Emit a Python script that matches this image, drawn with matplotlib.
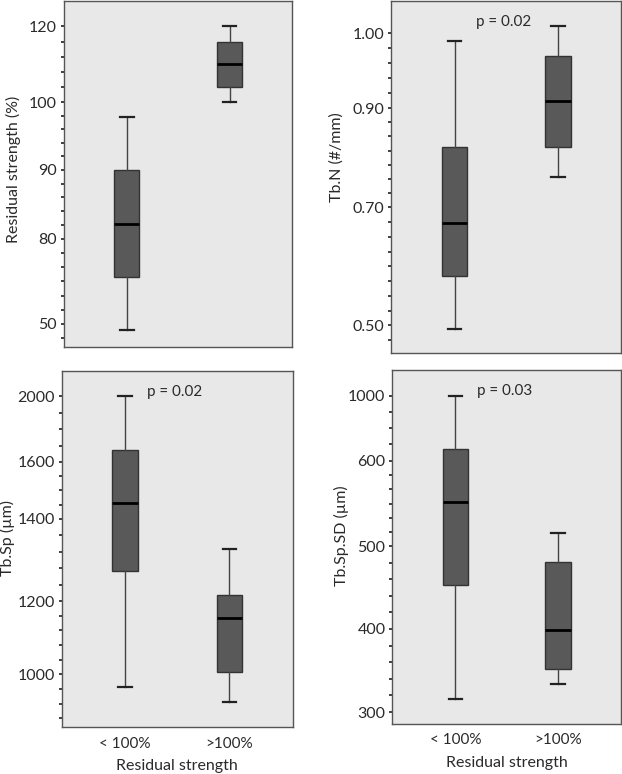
import numpy as np
import matplotlib.pyplot as plt
from matplotlib.ticker import FixedLocator, NullFormatter

plt.rcParams['font.family'] = ['Lato', 'DejaVu Sans']

groups = ['< 100%', '>100%']

# whisker low, q1, median, q3, whisker high
strength_lt100 = [47.9, 66.6, 82.2, 90.0, 97.8]
strength_gt100 = [100.0, 104.0, 110.0, 116.0, 120.0]
tbn_lt100 = [0.494, 0.583, 0.673, 0.822, 0.989]
tbn_gt100 = [0.760, 0.822, 0.909, 0.969, 1.010]
tbsp_lt100 = [967, 1272, 1454, 1675, 2000]
tbsp_gt100 = [926, 1008, 1155, 1215, 1327]
tbspsd_lt100 = [315.7, 452.8, 551.6, 674.0, 1000.0]
tbspsd_gt100 = [334.0, 351.8, 398.4, 480.6, 516.0]

# y tick values / labels
strength_ticks = [50, 80, 90, 100, 120]
strength_labels = ['50', '80', '90', '100', '120']
tbn_ticks = [0.50, 0.70, 0.90, 1.00]
tbn_labels = ['0.50', '0.70', '0.90', '1.00']
tbsp_ticks = [1000, 1200, 1400, 1600, 2000]
tbsp_labels = ['1000', '1200', '1400', '1600', '2000']
tbspsd_ticks = [300, 400, 500, 600, 1000]
tbspsd_labels = ['300', '400', '500', '600', '1000']

# the original axes are not linear: where each tick sits (fraction of axes height)
strength_knots = [0.066, 0.312, 0.511, 0.707, 0.926]
tbn_knots = [0.078, 0.414, 0.695, 0.908]
tbsp_knots = [0.147, 0.353, 0.584, 0.744, 0.928]
tbspsd_knots = [0.033, 0.268, 0.501, 0.744, 0.927]


def piecewise(xs, ys):
    xs = np.asarray(xs, float)
    ys = np.asarray(ys, float)
    s0 = (ys[1] - ys[0]) / (xs[1] - xs[0])
    s1 = (ys[-1] - ys[-2]) / (xs[-1] - xs[-2])

    def f(v):
        v = np.asarray(v, float)
        out = np.interp(v, xs, ys)
        out = np.where(v < xs[0], ys[0] + (v - xs[0]) * s0, out)
        out = np.where(v > xs[-1], ys[-1] + (v - xs[-1]) * s1, out)
        return out
    return f


def stats(five):
    lo, q1, med, q3, hi = five
    return dict(whislo=lo, q1=q1, med=med, q3=q3, whishi=hi, fliers=[])


fig = plt.figure(figsize=(6.22, 7.74), dpi=100)

panels = [
    ([0.103, 0.552, 0.367, 0.447], strength_lt100, strength_gt100, strength_ticks,
     strength_labels, strength_knots, 'Residual strength (%)', None, False, (-0.19, 0.514)),
    ([0.629, 0.544, 0.370, 0.455], tbn_lt100, tbn_gt100, tbn_ticks,
     tbn_labels, tbn_knots, 'Tb.N (#/mm)', 'p = 0.02', False, (-0.205, 0.555)),
    ([0.099, 0.061, 0.372, 0.460], tbsp_lt100, tbsp_gt100, tbsp_ticks,
     tbsp_labels, tbsp_knots, 'Tb.Sp (µm)', 'p = 0.02', True, (-0.2, 0.53)),
    ([0.631, 0.065, 0.367, 0.457], tbspsd_lt100, tbspsd_gt100, tbspsd_ticks,
     tbspsd_labels, tbspsd_knots, 'Tb.Sp.SD (µm)', 'p = 0.03', True, (-0.19, 0.531)),
]

for rect, g1, g2, ticks, labels, knots, ylab, ptxt, bottom, labxy in panels:
    ax = fig.add_axes(rect)
    ax.set_facecolor('#e8e8e8')
    fwd = piecewise(ticks, knots)
    inv = piecewise(knots, ticks)
    ax.set_yscale('function', functions=(fwd, inv))

    ax.bxp([stats(g1), stats(g2)], positions=[1, 2], widths=0.245,
           patch_artist=True, showfliers=False, capwidths=0.13,
           boxprops=dict(facecolor='#595959', edgecolor='#333333', linewidth=1),
           medianprops=dict(color='black', linewidth=2),
           whiskerprops=dict(color='#444444', linewidth=1),
           capprops=dict(color='#222222', linewidth=1.6))

    ax.set_xlim(0.389, 2.611)
    ax.set_ylim(float(inv(0.0)), float(inv(1.0)))

    # minor ticks: evenly spaced along the drawn axis
    minors = []
    for a, b in zip(knots[:-1], knots[1:]):
        n = max(1, int(round((b - a) / 0.043)))
        minors += list(np.linspace(a, b, n + 1)[1:-1])
    step = (knots[1] - knots[0]) / max(1, int(round((knots[1] - knots[0]) / 0.043)))
    p = knots[0] - step
    while p > 0.01:
        minors.append(p)
        p -= step
    ax.yaxis.set_major_locator(FixedLocator(ticks))
    ax.set_yticklabels(labels)
    ax.yaxis.set_minor_locator(FixedLocator(list(inv(np.array(minors)))))
    ax.yaxis.set_minor_formatter(NullFormatter())
    ax.tick_params(axis='y', which='both', length=2.5, width=1.3, color='#333333',
                   labelsize=11.5, labelcolor='#2a2a2a', pad=2.5)

    ax.set_xticks([1, 2])
    if bottom:
        ax.set_xticklabels(groups)
        ax.set_xlabel('Residual strength', fontsize=11.5, color='#2a2a2a', labelpad=6)
    else:
        ax.set_xticklabels([])
    ax.tick_params(axis='x', length=0, labelsize=11, labelcolor='#2a2a2a', pad=7)

    ax.set_ylabel(ylab, fontsize=11.5, color='#2a2a2a')
    ax.yaxis.set_label_coords(*labxy)

    for s in ax.spines.values():
        s.set_color('#555555')
        s.set_linewidth(1)

    if ptxt:
        ax.text(0.49, 0.94, ptxt, transform=ax.transAxes, ha='center', va='center',
                fontsize=11, color='#2a2a2a')

fig.savefig('out.png', dpi=100)
